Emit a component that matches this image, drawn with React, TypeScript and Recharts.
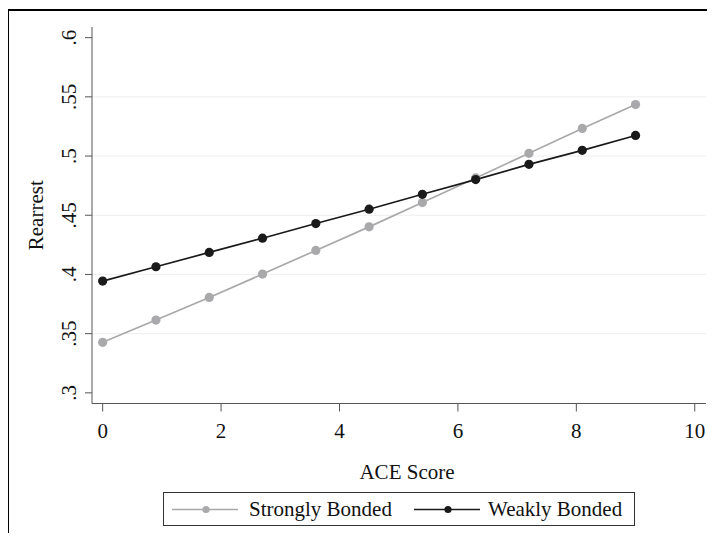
import React from "react";
import { LineChart, Line, XAxis, YAxis, CartesianGrid } from "recharts";

const aceScores = [0, 0.9, 1.8, 2.7, 3.6, 4.5, 5.4, 6.3, 7.2, 8.1, 9.0];
const stronglyBonded = [0.3427, 0.3615, 0.3806, 0.4003, 0.4203, 0.4402, 0.4607, 0.4815, 0.5023, 0.5233, 0.5435];
const weaklyBonded = [0.3944, 0.4065, 0.4186, 0.4306, 0.443, 0.4551, 0.4677, 0.4801, 0.493, 0.5048, 0.5174];
const xTicks = [0, 2, 4, 6, 8, 10];
const yTicks = [0.3, 0.35, 0.4, 0.45, 0.5, 0.55, 0.6];
const yTickLabels = [".3", ".35", ".4", ".45", ".5", ".55", ".6"];
const gridValues = [0.35, 0.4, 0.45, 0.5, 0.55];

const data = aceScores.map((x, i) => ({ x, strongly: stronglyBonded[i], weakly: weaklyBonded[i] }));

const FONT = `"Liberation Serif", "Times New Roman", serif`;
const FS = 21;
const AXIS = "#555555";
const GRAY = "#a9a9ab";
const DARK = "#1a1a1a";

const txtStyle: React.CSSProperties = { fontFamily: FONT, fontSize: FS };

const YTick = (props: any) => {
  const { y, payload } = props;
  const idx = yTicks.findIndex((t) => Math.abs(t - payload.value) < 1e-9);
  const label = idx >= 0 ? yTickLabels[idx] : String(payload.value);
  const x = 68;
  return (
    <text x={x} y={y} transform={`rotate(-90, ${x}, ${y})`} textAnchor="middle" style={txtStyle} fill="#111">
      {label}
    </text>
  );
};

const XTick = (props: any) => {
  const { x, payload } = props;
  return (
    <text x={x} y={430} textAnchor="middle" style={txtStyle} fill="#111">
      {payload.value}
    </text>
  );
};

const YTitle = (props: any) => {
  const vb = props.viewBox || { y: 19, height: 376.5 };
  const cy = vb.y + vb.height / 2;
  const x = 35;
  return (
    <text x={x} y={cy} transform={`rotate(-90, ${x}, ${cy})`} textAnchor="middle" style={txtStyle} fill="#111">
      Rearrest
    </text>
  );
};

const XTitle = () => (
  <text x={399} y={471} textAnchor="middle" style={txtStyle} fill="#111">
    ACE Score
  </text>
);

export default function App() {
  return (
    <div style={{ position: "relative", width: 707, height: 525, fontFamily: FONT }}>
      <style>{`body{overflow:hidden}`}</style>
      <div
        style={{
          position: "absolute",
          left: -1,
          top: 1,
          width: 708,
          height: 532,
          borderTop: "2px solid #000",
          borderLeft: "2px solid #000",
          boxSizing: "border-box",
        }}
      />
      <div style={{ position: "absolute", left: 0, top: 0 }}>
        <LineChart width={707} height={533} data={data} margin={{ top: 19, right: 9, left: 0, bottom: 0 }}>
          <CartesianGrid vertical={false} horizontalValues={gridValues} stroke="#eeeeee" strokeWidth={1} />
          <XAxis
            dataKey="x"
            type="number"
            domain={[-0.18, 10.19]}
            allowDataOverflow
            ticks={xTicks}
            height={137.5}
            tickSize={8}
            stroke={AXIS}
            tickLine={{ stroke: AXIS }}
            tick={<XTick />}
            label={<XTitle />}
          />
          <YAxis
            type="number"
            domain={[0.291, 0.609]}
            allowDataOverflow
            ticks={yTicks}
            width={84}
            tickSize={7}
            stroke={AXIS}
            tickLine={{ stroke: AXIS }}
            tick={<YTick />}
            label={<YTitle />}
          />
          <Line
            dataKey="strongly"
            stroke={GRAY}
            strokeWidth={1.7}
            dot={{ r: 4.6, fill: GRAY, stroke: "none" }}
            isAnimationActive={false}
          />
          <Line
            dataKey="weakly"
            stroke={DARK}
            strokeWidth={1.7}
            dot={{ r: 4.6, fill: DARK, stroke: "none" }}
            isAnimationActive={false}
          />
        </LineChart>
      </div>
      <div
        style={{
          position: "absolute",
          left: 155,
          top: 484,
          width: 472,
          height: 34,
          border: "1px solid #333",
          boxSizing: "border-box",
          background: "#fff",
        }}
      >
        <svg width={470} height={32} style={{ display: "block" }}>
          <line x1={8} x2={74} y1={16.5} y2={16.5} stroke={GRAY} strokeWidth={1.6} />
          <circle cx={42} cy={16.5} r={3.6} fill={GRAY} />
          <text x={85} y={22.5} style={txtStyle} fill="#111">Strongly Bonded</text>
          <line x1={250} x2={316} y1={16.5} y2={16.5} stroke={DARK} strokeWidth={1.6} />
          <circle cx={284} cy={16.5} r={3.6} fill={DARK} />
          <text x={324} y={22.5} style={txtStyle} fill="#111">Weakly Bonded</text>
        </svg>
      </div>
    </div>
  );
}
